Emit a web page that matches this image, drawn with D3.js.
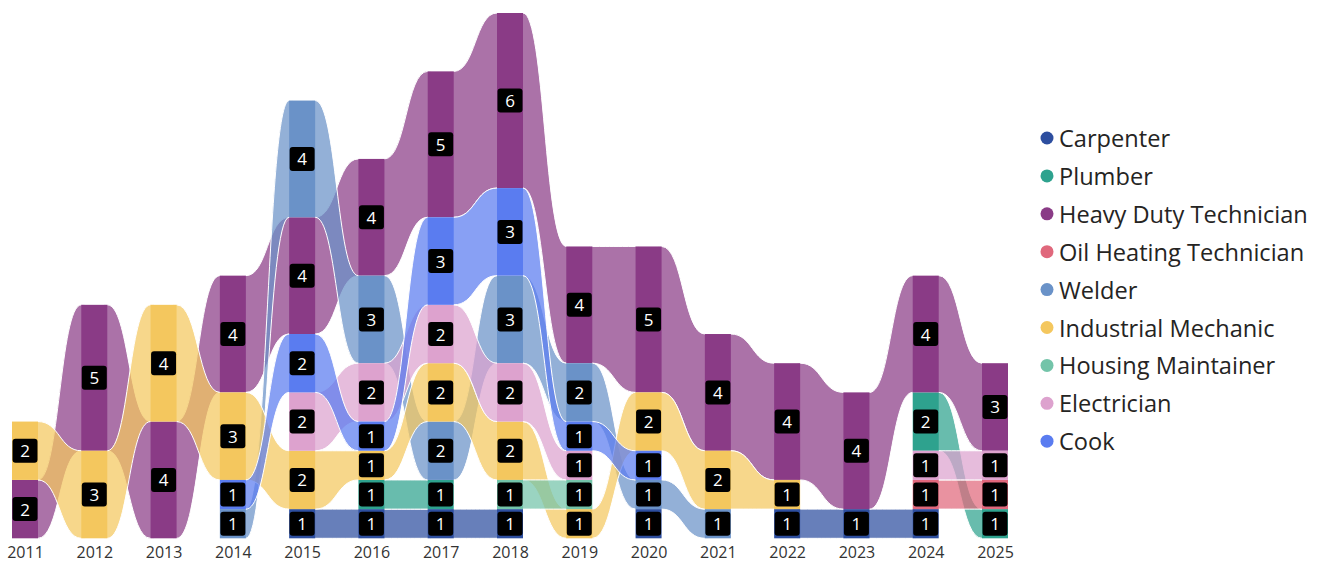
<!DOCTYPE html>
<html>
<head>
<meta charset="utf-8">
<script src="https://cdn.jsdelivr.net/npm/d3@7"></script>
<style>
  html, body { margin: 0; padding: 0; background: #fff; }
  svg { display: block; }
  text { font-family: "Segoe UI", "Open Sans", "Noto Sans", sans-serif; }
</style>
</head>
<body>
<svg id="chart" width="1322" height="562"></svg>
<script>
// ---------- DATA ----------
const years = ["2011","2012","2013","2014","2015","2016","2017","2018","2019","2020","2021","2022","2023","2024","2025"];
const categories = ["Carpenter","Plumber","Heavy Duty Technician","Oil Heating Technician","Welder","Industrial Mechanic","Housing Maintainer","Electrician","Cook"];

const carpenter          = [0,0,0,0,1,1,1,1,0,1,0,1,1,1,0];
const plumber            = [0,0,0,0,0,1,1,0,0,0,0,0,0,2,1];
const heavyDuty          = [2,5,4,4,4,4,5,6,4,5,4,4,4,4,3];
const oilHeating         = [0,0,0,0,0,0,0,0,0,0,0,0,0,1,1];
const welder             = [0,0,0,1,4,3,2,3,2,1,1,0,0,0,0];
const industrialMechanic = [2,3,4,3,2,1,2,2,1,2,2,1,0,0,0];
const housingMaintainer  = [0,0,0,0,0,0,0,1,1,0,0,0,0,0,0];
const electrician        = [0,0,0,0,2,2,2,2,1,0,0,0,0,1,1];
const cook               = [0,0,0,1,2,1,3,3,1,1,0,0,0,0,0];

const seriesValues = [carpenter, plumber, heavyDuty, oilHeating, welder, industrialMechanic, housingMaintainer, electrician, cook];

// stacking order in each year, bottom -> top
const stackOrder = [
  ["Heavy Duty Technician","Industrial Mechanic"],
  ["Industrial Mechanic","Heavy Duty Technician"],
  ["Heavy Duty Technician","Industrial Mechanic"],
  ["Welder","Cook","Industrial Mechanic","Heavy Duty Technician"],
  ["Carpenter","Industrial Mechanic","Electrician","Cook","Heavy Duty Technician","Welder"],
  ["Carpenter","Plumber","Industrial Mechanic","Cook","Electrician","Welder","Heavy Duty Technician"],
  ["Carpenter","Plumber","Welder","Industrial Mechanic","Electrician","Cook","Heavy Duty Technician"],
  ["Carpenter","Housing Maintainer","Industrial Mechanic","Electrician","Welder","Cook","Heavy Duty Technician"],
  ["Industrial Mechanic","Housing Maintainer","Electrician","Cook","Welder","Heavy Duty Technician"],
  ["Carpenter","Welder","Cook","Industrial Mechanic","Heavy Duty Technician"],
  ["Welder","Industrial Mechanic","Heavy Duty Technician"],
  ["Carpenter","Industrial Mechanic","Heavy Duty Technician"],
  ["Carpenter","Heavy Duty Technician"],
  ["Carpenter","Oil Heating Technician","Electrician","Plumber","Heavy Duty Technician"],
  ["Plumber","Oil Heating Technician","Electrician","Heavy Duty Technician"]
];

// ---------- STYLE ----------
const colors = ["#2D4E9F","#2EA28E","#8A3B86","#E0687C","#6A92C8","#F4C75E","#73C4A9","#DDA2CE","#5A7CF0"];
const ribbonOpacity = 0.72;
const bandW = 26;

// ---------- LAYOUT ----------
const svg = d3.select("#chart");
const color = d3.scaleOrdinal().domain(categories).range(colors);

const segs = {};
categories.forEach(c => segs[c] = []);
const totals = years.map((yr, i) => {
  let acc = 0;
  stackOrder[i].forEach(c => {
    const v = seriesValues[categories.indexOf(c)][i];
    segs[c][i] = {y0: acc, y1: acc + v, v: v, year: yr, cat: c};
    acc += v;
  });
  return acc;
});

const x = d3.scalePoint().domain(years).range([25, 995]);
const y = d3.scaleLinear().domain([0, d3.max(totals)]).range([538.3, 13]);

// ---------- RIBBONS ----------
const gRib = svg.append("g");
categories.forEach(c => {
  for (let i = 0; i < years.length - 1; i++) {
    const a = segs[c][i], b = segs[c][i + 1];
    if (!a || !b || !a.v || !b.v) continue;
    const x0 = x(years[i]) + bandW / 2, x1 = x(years[i + 1]) - bandW / 2;
    const xm = (x0 + x1) / 2;
    const t0 = y(a.y1), b0 = y(a.y0), t1 = y(b.y1), b1 = y(b.y0);
    const p = d3.path();
    p.moveTo(x0 - 3, t0);
    p.lineTo(x0, t0);
    p.bezierCurveTo(xm, t0, xm, t1, x1, t1);
    p.lineTo(x1 + 3, t1);
    p.lineTo(x1 + 3, b1);
    p.lineTo(x1, b1);
    p.bezierCurveTo(xm, b1, xm, b0, x0, b0);
    p.lineTo(x0 - 3, b0);
    p.closePath();
    gRib.append("path")
      .attr("d", p.toString())
      .attr("fill", color(c))
      .attr("fill-opacity", ribbonOpacity)
      .attr("stroke", "#fff")
      .attr("stroke-width", 1);
  }
});

// ---------- COLUMNS ----------
const allSegs = [];
categories.forEach(c => segs[c].forEach(s => { if (s && s.v) allSegs.push(s); }));

svg.append("g").selectAll("rect").data(allSegs).join("rect")
  .attr("x", d => x(d.year) - bandW / 2)
  .attr("y", d => y(d.y1))
  .attr("width", bandW)
  .attr("height", d => y(d.y0) - y(d.y1))
  .attr("fill", d => color(d.cat));

// ---------- DATA LABELS ----------
const gLab = svg.append("g");
allSegs.forEach(d => {
  const cy = (y(d.y0) + y(d.y1)) / 2;
  const cx = x(d.year);
  gLab.append("rect")
    .attr("x", cx - 12.5).attr("y", cy - 12)
    .attr("width", 25).attr("height", 24)
    .attr("rx", 3).attr("ry", 3)
    .attr("fill", "#000");
  gLab.append("text")
    .attr("x", cx).attr("y", cy)
    .attr("text-anchor", "middle")
    .attr("dominant-baseline", "central")
    .attr("font-size", 17)
    .attr("fill", "#fff")
    .text(d.v);
});

// ---------- X AXIS ----------
const xAxis = d3.axisBottom(x).tickSize(0).tickPadding(0);
const gx = svg.append("g").attr("transform", "translate(0,547)").call(xAxis);
gx.select(".domain").remove();
gx.selectAll("text")
  .attr("font-size", 16)
  .attr("fill", "#333")
  .attr("dy", "0.71em")
  .style("font-family", '"Segoe UI", "Open Sans", "Noto Sans", sans-serif');

// ---------- LEGEND ----------
const gLeg = svg.append("g");
categories.forEach((c, i) => {
  const cy = 138 + i * 37.9;
  gLeg.append("circle").attr("cx", 1047).attr("cy", cy).attr("r", 6.5).attr("fill", color(c));
  gLeg.append("text")
    .attr("x", 1059).attr("y", cy)
    .attr("dominant-baseline", "central")
    .attr("font-size", 23.6)
    .attr("fill", "#252423")
    .text(c);
});
</script>
</body>
</html>
